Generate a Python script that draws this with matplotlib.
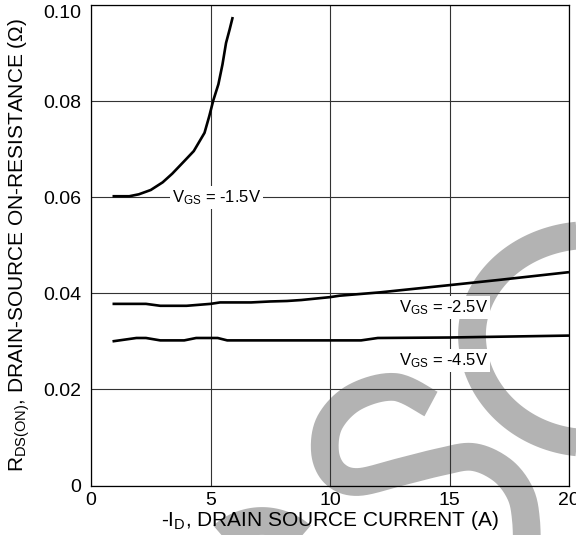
import numpy as np
import matplotlib
matplotlib.use('Agg')
import matplotlib.pyplot as plt
from matplotlib.lines import Line2D

plt.rcParams['font.family'] = ['Liberation Sans', 'DejaVu Sans']
plt.rcParams['mathtext.fontset'] = 'custom'
plt.rcParams['mathtext.rm'] = 'Liberation Sans'
plt.rcParams['mathtext.it'] = 'Liberation Sans:italic'

# curves: -ID (A) vs RDS(on) (ohm)
id_15 = [0.9, 1.6, 2.0, 2.5, 3.0, 3.4, 3.9, 4.3, 4.75, 4.95, 5.12, 5.33, 5.5, 5.65, 5.8, 5.93]
r_15 = [0.0602, 0.0602, 0.0606, 0.0615, 0.0631, 0.0649, 0.0675, 0.0696, 0.0734, 0.0769,
        0.0802, 0.0835, 0.0876, 0.0921, 0.0949, 0.0975]

id_25 = [0.9, 2.3, 2.9, 4.0, 5.0, 5.4, 6.7, 7.5, 8.2, 8.8, 10.0, 10.4, 12.1, 15.0, 17.1, 20.0]
r_25 = [0.0378, 0.0378, 0.0374, 0.0374, 0.0378, 0.0381, 0.0381, 0.0383, 0.0384, 0.0386,
        0.0392, 0.0395, 0.0402, 0.0417, 0.0428, 0.0444]

id_45 = [0.9, 1.9, 2.3, 2.9, 3.9, 4.4, 5.3, 5.7, 8.7, 11.3, 12.0, 15.0, 20.0]
r_45 = [0.0300, 0.0307, 0.0307, 0.0302, 0.0302, 0.0307, 0.0307, 0.0302, 0.0302, 0.0302,
        0.0307, 0.0308, 0.0312]

labels = ['-1.5V', '-2.5V', '-4.5V']
label_pos = [(5.25, 0.0599), (14.75, 0.0370), (14.75, 0.0260)]

xticks = [0, 5, 10, 15, 20]
yticks = [0, 0.02, 0.04, 0.06, 0.08, 0.10]
ytick_labels = ['0', '0.02', '0.04', '0.06', '0.08', '0.10']

W, H = 576, 535
fig = plt.figure(figsize=(W / 100, H / 100), dpi=100, facecolor='white')
ax = fig.add_axes([91 / W, 1 - 485.5 / H, 478 / W, 480.5 / H])
ax.set_facecolor('none')


# grey "S" watermark behind the chart (pixel coords, y down)
def catmull(pts, n=20):
    p = np.array(pts, float)
    p = np.vstack([p[0], p, p[-1]])
    out = []
    for i in range(1, len(p) - 2):
        p0, p1, p2, p3 = p[i - 1], p[i], p[i + 1], p[i + 2]
        for t in np.linspace(0, 1, n, endpoint=False):
            out.append(0.5 * ((2 * p1) + (-p0 + p2) * t + (2 * p0 - 5 * p1 + 4 * p2 - p3) * t ** 2
                              + (-p0 + 3 * p1 - 3 * p2 + p3) * t ** 3))
    out.append(p[-2])
    return np.array(out)


def wm(xy):
    line = Line2D(xy[:, 0] / W, 1 - xy[:, 1] / H, transform=fig.transFigure,
                  color='#b3b3b3', lw=20, solid_capstyle='butt', solid_joinstyle='round', zorder=-5)
    fig.add_artist(line)


s_pts = [(431, 404), (395, 387), (355, 397), (330, 422), (325, 452), (335, 474), (358, 482),
         (400, 472), (440, 462), (473, 457), (502, 470), (520, 493), (526, 520), (527, 560)]
wm(catmull(s_pts))

th = np.linspace(np.pi / 2, 3 * np.pi / 2, 120)
ry = np.where(np.sin(th) > 0, 100, 108)
wm(np.column_stack([590 + 118 * np.cos(th), 335 - ry * np.sin(th)]))

th = np.linspace(0, np.pi, 120)
wm(np.column_stack([262 + 60 * np.cos(th), 581 - 60 * np.sin(th)]))

# data curves
for xs, ys in [(id_15, r_15), (id_25, r_25), (id_45, r_45)]:
    ax.plot(xs, ys, color='black', lw=1.9, solid_capstyle='butt', zorder=3)

for lab, (x, y) in zip(labels, label_pos):
    ax.text(x, y, r'V$_{\mathrm{GS}}$ = ' + lab, ha='center', va='center', fontsize=12,
            bbox=dict(facecolor='white', edgecolor='none', pad=1.5), zorder=4)

ax.set_xlim(0, 20)
ax.set_ylim(0, 0.10)
ax.set_xticks(xticks)
ax.set_yticks(yticks)
ax.set_yticklabels(ytick_labels)
ax.tick_params(length=0, labelsize=14)
ax.tick_params(axis='x', pad=5)
ax.tick_params(axis='y', pad=7)
ax.get_yticklabels()[-1].set_verticalalignment('top')
ax.grid(True, color='#333333', lw=0.8)
ax.set_axisbelow(True)
for s in ax.spines.values():
    s.set_color('black')
    s.set_linewidth(0.9)

ax.set_xlabel(r'-I$_{\mathrm{D}}$, DRAIN SOURCE CURRENT (A)', fontsize=15, labelpad=0)
ax.set_ylabel(r'R$_{\mathrm{DS(ON)}}$, DRAIN-SOURCE ON-RESISTANCE ($\Omega$)', fontsize=15, labelpad=8)

fig.savefig('out.png', dpi=100, facecolor='white')
